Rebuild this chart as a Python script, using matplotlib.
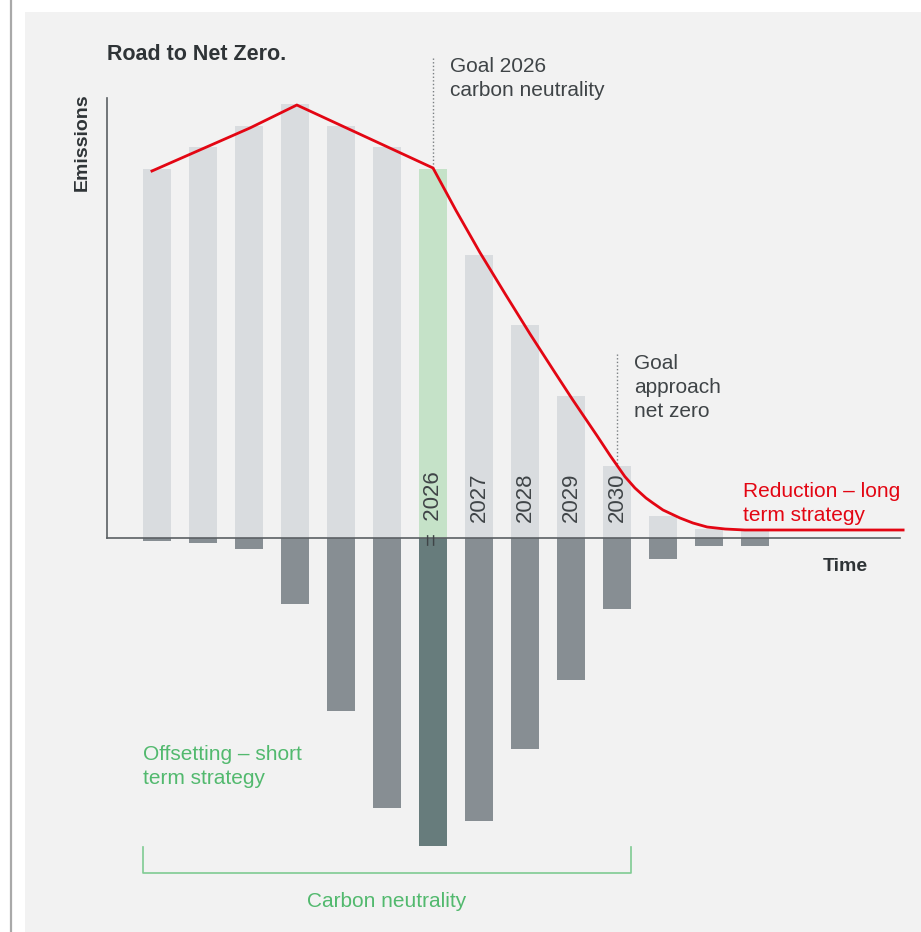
import matplotlib.pyplot as plt
from matplotlib.lines import Line2D

plt.rcParams['font.family'] = ['Liberation Sans', 'DejaVu Sans']

# yearly emissions (above the axis) and offsets (below the axis)
emissions = [36.9, 39.1, 41.2, 43.4, 41.2, 39.1, 36.9, 28.3, 21.3, 14.2, 7.2, 2.2, 0.9, 0.8]
offsets = [-0.3, -0.5, -1.1, -6.6, -17.3, -27.0, -30.8, -28.3, -21.1, -14.2, -7.1, -2.1, -0.8, -0.8]
year_labels = ['=  2026', '2027', '2028', '2029', '2030']
first_year_idx = 6

# reduction path
path_x = [-0.11, 0.93, 2.02, 3.04, 6.0, 6.5, 7.02, 7.57, 8.11, 8.65, 9.04, 9.57,
          9.85, 10.17, 10.39, 10.63, 10.78, 11.0, 11.37, 11.65, 11.96, 12.35, 12.78, 16.22]
path_y = [36.7, 38.8, 41.0, 43.3, 37.0, 32.75, 28.55, 24.4, 20.4, 16.55, 13.8, 10.2,
          8.25, 6.15, 5.0, 4.0, 3.5, 2.8, 2.0, 1.5, 1.1, 0.9, 0.8, 0.8]

GREY_BAR = '#d9dcdf'
GREEN_BAR = '#c5e2c8'
DARK_BAR = '#878e93'
TEAL_BAR = '#677c7c'
RED = '#e30613'
GREEN = '#52b96e'
TEXT = '#3f4447'

W, H = 921, 932
LINE_GAP = 24


def dx(px):
    return (px - 157) / 46


def dy(py):
    return (538 - py) / 10


def put_lines(ax, px, first_baseline, lines, **kw):
    for k, line in enumerate(lines):
        ax.text(dx(px), dy(first_baseline + k * LINE_GAP), line, va='baseline', **kw)


fig = plt.figure(figsize=(W / 100, H / 100), dpi=100)
fig.patch.set_facecolor('white')
fig.add_artist(Line2D([10.5 / W, 10.5 / W], [0, 1], color='#a9a9a9', lw=1.6))

ax = fig.add_axes([25 / W, 0, 1 - 25 / W, 1 - 12 / H])
ax.set_facecolor('#f2f2f2')
ax.set_xlim(dx(25), dx(W))
ax.set_ylim(dy(H), dy(12))

n = len(emissions)
xs = list(range(n))
top_colors = [GREEN_BAR if i == first_year_idx else GREY_BAR for i in xs]
bot_colors = [TEAL_BAR if i == first_year_idx else DARK_BAR for i in xs]
ax.bar(xs, emissions, width=0.63, color=top_colors, zorder=1)
ax.bar(xs, offsets, width=0.63, color=bot_colors, zorder=1)

ax.plot(path_x, path_y, color=RED, lw=2, zorder=4, solid_joinstyle='round')

# axes lines
for side in ('top', 'right'):
    ax.spines[side].set_visible(False)
ax.spines['left'].set_position(('data', dx(107)))
ax.spines['left'].set_bounds(0, dy(98))
ax.spines['bottom'].set_position(('data', 0))
ax.spines['bottom'].set_bounds(dx(107), dx(900))
for side in ('left', 'bottom'):
    ax.spines[side].set_color('#5b6064')
    ax.spines[side].set_linewidth(1.2)
ax.set_xticks([])
ax.set_yticks([])

# year labels inside the bars
for k, lab in enumerate(year_labels):
    i = first_year_idx + k
    y0 = dy(546) if lab.startswith('=') else dy(522)
    ax.text(i, y0, lab, rotation=90, ha='center', va='bottom',
            fontsize=16, color=TEXT, zorder=3)

# goal markers
ax.plot([6, 6], [dy(58), emissions[6]], color='#7a7f82', lw=1,
        ls=(0, (1, 1.6)), zorder=2)
ax.plot([10, 10], [dy(354), emissions[10]], color='#7a7f82', lw=1,
        ls=(0, (1, 1.6)), zorder=2)

ax.text(dx(107), dy(60), 'Road to Net Zero.', fontsize=15.5, fontweight='bold',
        color='#2f3437', va='baseline')
ax.text(dx(82), dy(142), 'Emissions', rotation=90, fontsize=14, fontweight='bold',
        color='#2f3437', ha='center', va='center')
ax.text(dx(823), dy(571), 'Time', fontsize=14, fontweight='bold',
        color='#2f3437', va='baseline')

put_lines(ax, 450, 72, ['Goal 2026', 'carbon neutrality'], fontsize=15, color=TEXT)
put_lines(ax, 634, 369, ['Goal', 'approach', 'net zero'], fontsize=15, color=TEXT)
put_lines(ax, 743, 497, ['Reduction – long', 'term strategy'], fontsize=15, color=RED)
put_lines(ax, 143, 760, ['Offsetting – short', 'term strategy'], fontsize=15, color=GREEN)

# carbon neutrality bracket
ax.plot([dx(143), dx(143), dx(631), dx(631)], [dy(847), dy(873), dy(873), dy(847)],
        color='#7fcb93', lw=1.2)
ax.text(dx(387), dy(907), 'Carbon neutrality', fontsize=15, color=GREEN,
        ha='center', va='baseline')

fig.savefig('out.png', dpi=100, facecolor=fig.get_facecolor())
